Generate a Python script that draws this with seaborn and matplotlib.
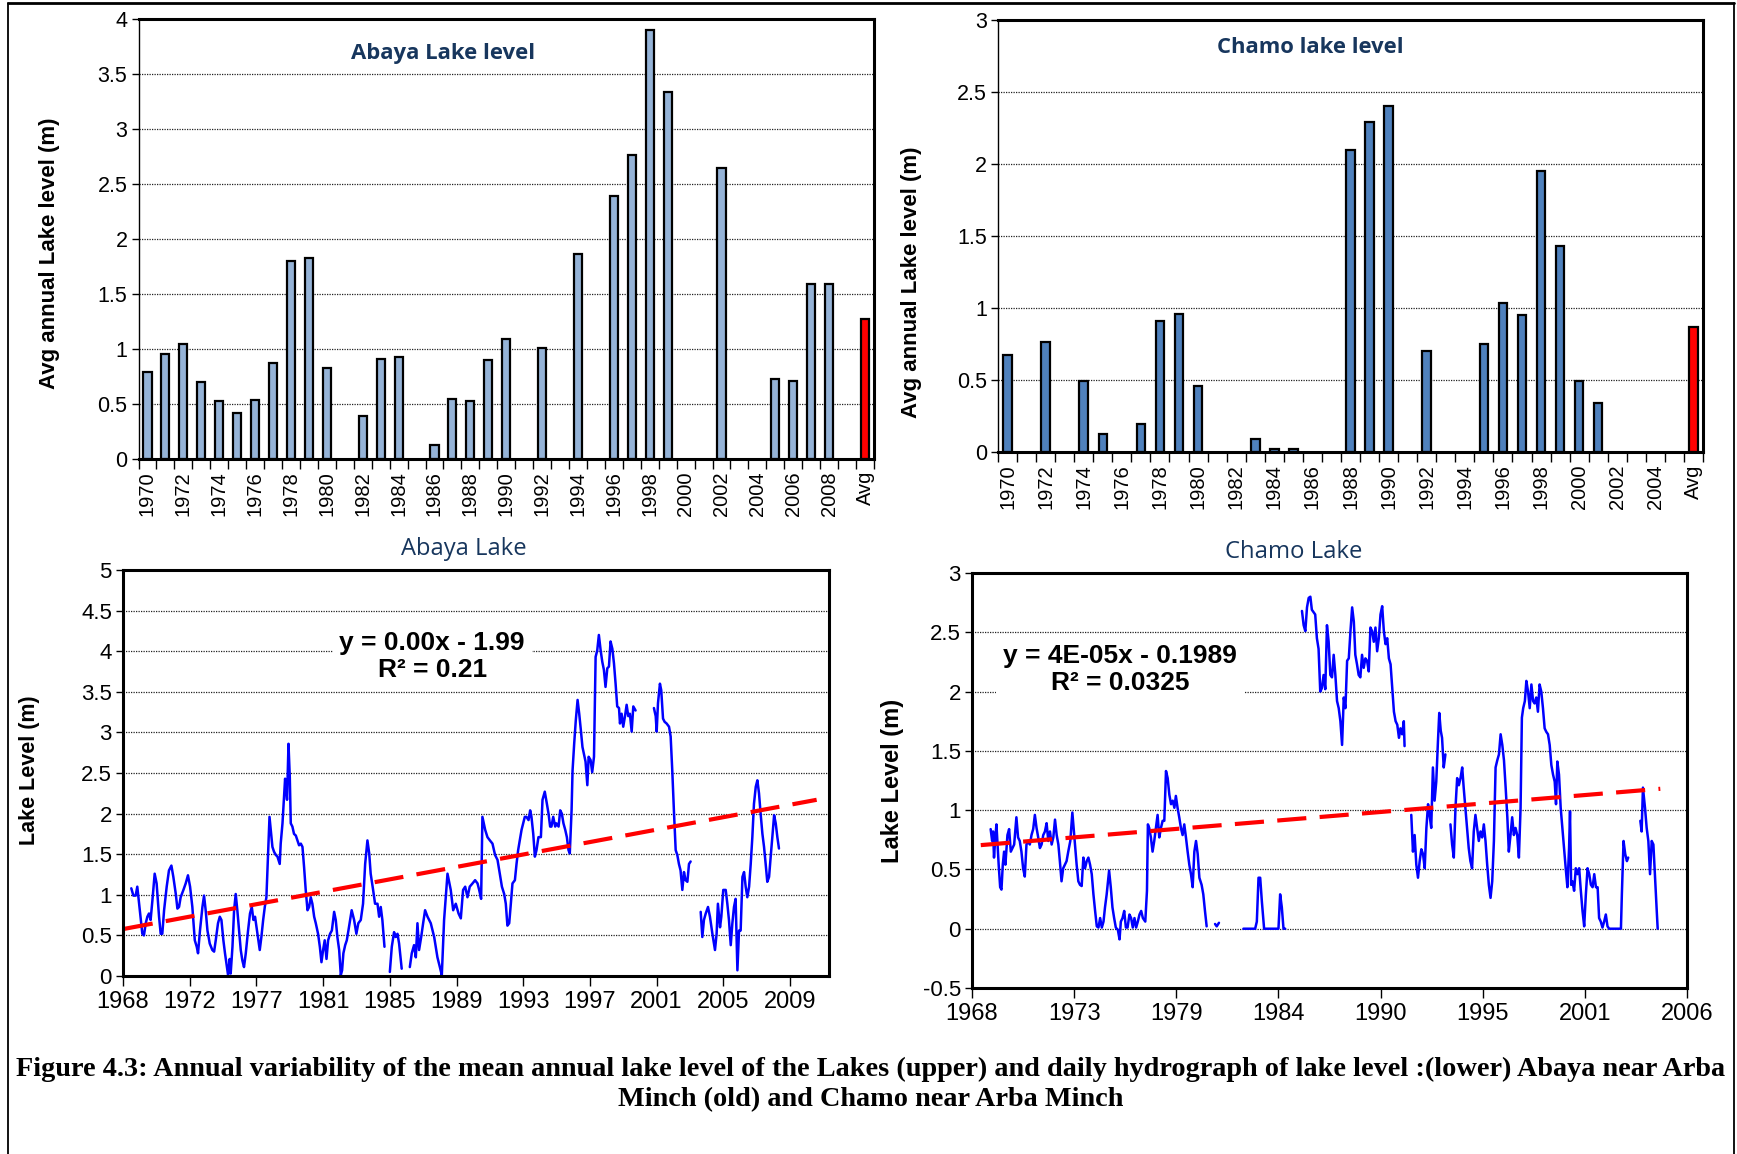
import numpy as np
import pandas as pd
import matplotlib
matplotlib.use("Agg")
import matplotlib.pyplot as plt
import seaborn as sns
from matplotlib import font_manager
from matplotlib.lines import Line2D
from matplotlib.ticker import MultipleLocator, FuncFormatter

# ---------------- DATA ----------------
abaya_cats = ['1970', '1971', '1972', '1973', '1974', '1975', '1976', '1977', '1978', '1979',
              '1980', '1981', '1982', '1983', '1984', '1985', '1986', '1987', '1988', '1989',
              '1990', '1991', '1992', '1993', '1994', '1995', '1996', '1997', '1998', '1999',
              '2000', '2001', '2002', '2003', '2004', '2005', '2006', '2007', '2008', '2009', 'Avg']
abaya_annual = [0.79, 0.95, 1.04, 0.70, 0.52, 0.415, 0.53, 0.87, 1.80, 1.82,
                0.82, None, 0.39, 0.91, 0.925, None, 0.12, 0.54, 0.52, 0.90,
                1.09, None, 1.01, None, 1.865, None, 2.39, 2.765, 3.90, 3.336,
                None, None, 2.64, None, None, 0.72, 0.71, 1.59, 1.585, None, 1.27]

chamo_cats = ['1970', '1971', '1972', '1973', '1974', '1975', '1976', '1977', '1978', '1979',
              '1980', '1981', '1982', '1983', '1984', '1985', '1986', '1987', '1988', '1989',
              '1990', '1991', '1992', '1993', '1994', '1995', '1996', '1997', '1998', '1999',
              '2000', '2001', '2002', '2003', '2004', '2005', 'Avg']
chamo_annual = [0.676, None, 0.763, None, 0.49, 0.125, None, 0.193, 0.911, 0.961,
                0.457, None, None, 0.087, 0.024, 0.024, None, None, 2.10, 2.29,
                2.40, None, 0.70, None, None, 0.753, 1.036, 0.954, 1.95, 1.43,
                0.49, 0.34, None, None, None, None, 0.87]

# daily hydrograph, Abaya (decimal year, level m), one list per continuous record
abaya_seg1 = [(1969.35, 1.08), (1969.48, 0.99), (1969.62, 0.99), (1969.72, 1.10), (1969.83, 0.89),
              (1969.93, 0.69), (1970.03, 0.52), (1970.13, 0.50), (1970.24, 0.65), (1970.34, 0.73),
              (1970.44, 0.77), (1970.54, 0.69), (1970.65, 0.93), (1970.79, 1.26), (1970.91, 1.14),
              (1971.06, 0.73), (1971.16, 0.52), (1971.26, 0.52), (1971.37, 0.81), (1971.53, 1.10),
              (1971.67, 1.30), (1971.82, 1.36), (1971.94, 1.22), (1972.09, 1.01), (1972.19, 0.83),
              (1972.29, 0.85), (1972.39, 0.97), (1972.56, 1.06), (1972.70, 1.14), (1972.84, 1.24),
              (1972.97, 1.10), (1973.11, 0.85), (1973.26, 0.44), (1973.38, 0.36), (1973.46, 0.28),
              (1973.58, 0.56), (1973.73, 0.85), (1973.83, 0.99), (1973.93, 0.81), (1974.04, 0.56),
              (1974.18, 0.40), (1974.34, 0.32), (1974.45, 0.30), (1974.55, 0.44), (1974.69, 0.65),
              (1974.80, 0.73), (1974.90, 0.69), (1975.02, 0.44), (1975.12, 0.28), (1975.21, 0.15),
              (1975.31, 0.01), (1975.41, 0.21), (1975.47, 0.03), (1975.58, 0.36), (1975.68, 0.81),
              (1975.78, 1.01), (1975.88, 0.81), (1975.99, 0.56), (1976.09, 0.32), (1976.19, 0.19),
              (1976.29, 0.11), (1976.40, 0.28), (1976.54, 0.56), (1976.66, 0.77), (1976.77, 0.85),
              (1976.87, 0.69), (1976.97, 0.73), (1977.12, 0.52), (1977.26, 0.32), (1977.36, 0.48),
              (1977.47, 0.69), (1977.57, 0.85), (1977.67, 0.97), (1977.77, 1.51), (1977.86, 1.96),
              (1977.94, 1.79), (1978.04, 1.59), (1978.14, 1.53), (1978.25, 1.49), (1978.35, 1.47),
              (1978.49, 1.38), (1978.55, 1.63), (1978.66, 1.88), (1978.76, 2.21), (1978.82, 2.43),
              (1978.88, 2.33), (1978.94, 2.17), (1979.03, 2.86), (1979.11, 2.45), (1979.17, 1.88),
              (1979.27, 1.84), (1979.37, 1.75), (1979.48, 1.73), (1979.58, 1.67), (1979.68, 1.61),
              (1979.79, 1.63), (1979.89, 1.59), (1979.99, 1.34), (1980.09, 1.06), (1980.20, 0.81),
              (1980.30, 0.85), (1980.40, 0.97), (1980.50, 0.89), (1980.61, 0.73), (1980.71, 0.65),
              (1980.85, 0.52), (1980.96, 0.36), (1981.06, 0.17), (1981.16, 0.32), (1981.26, 0.44),
              (1981.37, 0.21), (1981.47, 0.44), (1981.59, 0.52), (1981.70, 0.56), (1981.84, 0.79),
              (1981.94, 0.69), (1982.04, 0.48), (1982.15, 0.32), (1982.25, 0.01), (1982.33, 0.07),
              (1982.41, 0.28), (1982.52, 0.38), (1982.62, 0.44), (1982.72, 0.56), (1982.92, 0.81),
              (1983.07, 0.69), (1983.21, 0.52), (1983.33, 0.65), (1983.48, 0.69), (1983.62, 0.89),
              (1983.75, 1.38), (1983.89, 1.67), (1984.00, 1.51), (1984.09, 1.26), (1984.24, 1.06),
              (1984.36, 0.89), (1984.51, 0.89), (1984.61, 0.73), (1984.71, 0.85), (1984.81, 0.69),
              (1984.94, 0.36)]
abaya_seg2 = [(1985.27, 0.05), (1985.39, 0.36), (1985.53, 0.54), (1985.63, 0.48), (1985.74, 0.52),
              (1985.84, 0.40), (1986.00, 0.09)]
abaya_seg3 = [(1986.50, 0.11), (1986.62, 0.28), (1986.76, 0.38), (1986.87, 0.23), (1986.97, 0.65),
              (1987.07, 0.32), (1987.20, 0.48), (1987.32, 0.65), (1987.44, 0.81), (1987.59, 0.73),
              (1987.79, 0.65), (1988.00, 0.48), (1988.20, 0.23), (1988.35, 0.11), (1988.47, 0.01),
              (1988.61, 0.69), (1988.82, 1.26), (1989.02, 1.06), (1989.17, 0.81), (1989.33, 0.89),
              (1989.50, 0.77), (1989.64, 0.71), (1989.78, 1.06), (1989.91, 1.10), (1990.05, 0.97),
              (1990.19, 1.10), (1990.36, 1.14), (1990.52, 1.18), (1990.67, 1.14), (1990.77, 1.06),
              (1990.89, 0.95), (1990.97, 1.96), (1991.14, 1.80), (1991.28, 1.71), (1991.43, 1.67),
              (1991.59, 1.63), (1991.75, 1.49), (1991.90, 1.43), (1992.04, 1.26), (1992.17, 1.10),
              (1992.31, 1.01), (1992.41, 0.89), (1992.51, 0.62), (1992.62, 0.65), (1992.72, 0.89),
              (1992.82, 1.14), (1992.97, 1.18), (1993.07, 1.38), (1993.17, 1.55), (1993.27, 1.67),
              (1993.38, 1.80), (1993.48, 1.88), (1993.58, 1.96), (1993.68, 1.96), (1993.81, 1.92),
              (1993.91, 2.04), (1993.99, 1.96), (1994.10, 1.75), (1994.20, 1.47), (1994.30, 1.55),
              (1994.42, 1.71), (1994.57, 1.71), (1994.67, 2.17), (1994.81, 2.27), (1994.94, 2.12),
              (1995.04, 2.00), (1995.14, 1.84), (1995.22, 1.84), (1995.33, 1.96), (1995.45, 1.84),
              (1995.53, 1.88), (1995.66, 1.84), (1995.76, 2.04), (1995.86, 2.00), (1995.96, 1.88),
              (1996.07, 1.80), (1996.17, 1.71), (1996.27, 1.55), (1996.35, 1.51), (1996.46, 2.04),
              (1996.52, 2.53), (1996.62, 2.86), (1996.72, 3.15), (1996.83, 3.40), (1996.93, 3.23),
              (1997.03, 3.03), (1997.13, 2.82), (1997.32, 2.64), (1997.43, 2.35), (1997.51, 2.70),
              (1997.63, 2.66), (1997.73, 2.51), (1997.84, 2.70), (1997.94, 3.93), (1998.04, 4.01),
              (1998.14, 4.20), (1998.25, 4.01), (1998.35, 3.87), (1998.45, 3.77), (1998.55, 3.56),
              (1998.66, 3.79), (1998.76, 3.81), (1998.86, 4.12), (1998.97, 4.03), (1999.07, 3.85),
              (1999.17, 3.60), (1999.27, 3.32), (1999.38, 3.30), (1999.44, 3.11), (1999.54, 3.23),
              (1999.64, 3.07), (1999.75, 3.20), (1999.85, 3.34), (1999.95, 3.20), (2000.05, 3.23),
              (2000.16, 3.01), (2000.26, 3.32), (2000.40, 3.27)]
abaya_seg4 = [(2001.53, 3.30), (2001.64, 3.20), (2001.70, 3.01), (2001.78, 3.36), (2001.90, 3.60),
              (2001.98, 3.52), (2002.09, 3.17), (2002.19, 3.13), (2002.31, 3.11), (2002.46, 3.07),
              (2002.56, 2.95), (2002.66, 2.53), (2002.76, 2.04), (2002.87, 1.55), (2002.97, 1.49),
              (2003.07, 1.38), (2003.17, 1.30), (2003.28, 1.06), (2003.38, 1.28), (2003.48, 1.18),
              (2003.59, 1.16), (2003.69, 1.38), (2003.79, 1.41)]
abaya_seg5 = [(2004.41, 0.79), (2004.51, 0.48), (2004.61, 0.69), (2004.72, 0.77), (2004.86, 0.85),
              (2004.98, 0.73), (2005.13, 0.52), (2005.29, 0.32), (2005.39, 0.52), (2005.47, 0.89),
              (2005.60, 0.60), (2005.68, 0.73), (2005.80, 1.06), (2005.95, 1.06), (2006.05, 0.89),
              (2006.15, 0.69), (2006.26, 0.38), (2006.36, 0.65), (2006.46, 0.85), (2006.56, 0.95),
              (2006.67, 0.07), (2006.77, 0.56), (2006.87, 0.56), (2006.98, 1.22), (2007.08, 1.28),
              (2007.18, 1.10), (2007.28, 0.97), (2007.39, 1.10), (2007.49, 1.38), (2007.59, 1.71),
              (2007.69, 2.12), (2007.80, 2.33), (2007.90, 2.41), (2008.00, 2.25), (2008.10, 2.00),
              (2008.21, 1.75), (2008.31, 1.59), (2008.41, 1.38), (2008.51, 1.16), (2008.62, 1.22),
              (2008.72, 1.47), (2008.82, 1.71), (2008.93, 1.98), (2009.03, 1.88), (2009.13, 1.71),
              (2009.23, 1.57)]

# daily hydrograph, Chamo
chamo_seg1 = [(1969.44, 0.84), (1969.52, 0.74), (1969.57, 0.82), (1969.62, 0.60), (1969.69, 0.77),
              (1969.75, 0.88), (1969.80, 0.74), (1969.87, 0.54), (1969.95, 0.35), (1970.02, 0.33),
              (1970.09, 0.54), (1970.16, 0.65), (1970.23, 0.54), (1970.34, 0.79), (1970.43, 0.84),
              (1970.52, 0.65), (1970.61, 0.68), (1970.70, 0.71), (1970.82, 0.94), (1970.91, 0.77),
              (1971.00, 0.74), (1971.09, 0.65), (1971.18, 0.51), (1971.27, 0.44), (1971.36, 0.71),
              (1971.45, 0.74), (1971.54, 0.71), (1971.63, 0.79), (1971.72, 0.84), (1971.81, 0.96),
              (1971.90, 0.85), (1971.99, 0.77), (1972.08, 0.68), (1972.17, 0.71), (1972.26, 0.79),
              (1972.35, 0.82), (1972.44, 0.89), (1972.53, 0.74), (1972.62, 0.82), (1972.71, 0.71),
              (1972.80, 0.77), (1972.89, 0.92), (1972.98, 0.79), (1973.07, 0.71), (1973.15, 0.57),
              (1973.24, 0.40), (1973.33, 0.51), (1973.42, 0.54), (1973.51, 0.57), (1973.60, 0.65),
              (1973.71, 0.74), (1973.82, 0.98), (1973.93, 0.77), (1974.05, 0.54), (1974.14, 0.40),
              (1974.23, 0.37), (1974.32, 0.36), (1974.41, 0.60), (1974.50, 0.51), (1974.59, 0.57),
              (1974.68, 0.60), (1974.77, 0.54), (1974.86, 0.46), (1974.95, 0.29), (1975.04, 0.15),
              (1975.13, 0.02), (1975.22, 0.01), (1975.31, 0.09), (1975.40, 0.01), (1975.49, 0.06),
              (1975.57, 0.18), (1975.66, 0.29), (1975.79, 0.49), (1975.88, 0.35), (1975.97, 0.18),
              (1976.06, 0.09), (1976.15, 0.01), (1976.26, -0.01), (1976.35, -0.09), (1976.42, 0.06),
              (1976.51, 0.09), (1976.60, 0.15), (1976.69, 0.01), (1976.78, 0.01), (1976.88, 0.12),
              (1976.97, 0.09), (1977.06, 0.01), (1977.15, 0.09), (1977.24, 0.01), (1977.33, 0.06),
              (1977.42, 0.12), (1977.51, 0.15), (1977.60, 0.09), (1977.73, 0.06), (1977.82, 0.32),
              (1977.87, 0.88), (1977.94, 0.85), (1978.03, 0.77), (1978.12, 0.65), (1978.21, 0.74),
              (1978.30, 0.85), (1978.39, 0.96), (1978.48, 0.77), (1978.57, 0.85), (1978.66, 0.91),
              (1978.75, 0.91), (1978.84, 1.33), (1978.93, 1.27), (1979.02, 1.13), (1979.11, 1.05),
              (1979.20, 1.08), (1979.29, 1.02), (1979.37, 1.12), (1979.46, 1.02), (1979.55, 0.94),
              (1979.64, 0.85), (1979.73, 0.79), (1979.82, 0.88), (1979.91, 0.77), (1980.00, 0.65),
              (1980.09, 0.54), (1980.18, 0.46), (1980.27, 0.35), (1980.36, 0.65), (1980.45, 0.74),
              (1980.54, 0.63), (1980.63, 0.43), (1980.75, 0.37), (1980.84, 0.29), (1980.93, 0.15),
              (1981.02, 0.02)]
chamo_seg2 = [(1981.47, 0.04), (1981.56, 0.02), (1981.68, 0.05)]
chamo_seg3 = [(1982.99, 0.0), (1983.62, 0.0), (1983.71, 0.06), (1983.80, 0.43), (1983.89, 0.43),
              (1983.98, 0.23), (1984.10, 0.0), (1984.87, 0.0), (1984.96, 0.29), (1985.05, 0.18),
              (1985.14, 0.0), (1985.23, 0.0)]
chamo_seg4 = [(1986.13, 2.68), (1986.22, 2.56), (1986.31, 2.51), (1986.40, 2.71), (1986.49, 2.79),
              (1986.58, 2.80), (1986.66, 2.69), (1986.75, 2.67), (1986.84, 2.65), (1986.93, 2.45),
              (1987.02, 2.36), (1987.11, 2.00), (1987.20, 2.03), (1987.29, 2.14), (1987.38, 2.02),
              (1987.47, 2.56), (1987.56, 2.42), (1987.65, 2.14), (1987.74, 2.12), (1987.83, 2.31),
              (1987.92, 2.14), (1988.01, 1.92), (1988.10, 1.86), (1988.19, 1.75), (1988.28, 1.55),
              (1988.37, 1.95), (1988.46, 1.86), (1988.55, 2.26), (1988.64, 2.28), (1988.73, 2.51),
              (1988.82, 2.71), (1988.91, 2.59), (1988.99, 2.31), (1989.08, 2.23), (1989.17, 2.14),
              (1989.26, 2.12), (1989.35, 2.31), (1989.44, 2.20), (1989.53, 2.28), (1989.62, 2.26),
              (1989.71, 2.17), (1989.80, 2.54), (1989.89, 2.51), (1989.98, 2.42), (1990.07, 2.54),
              (1990.16, 2.34), (1990.25, 2.45), (1990.34, 2.65), (1990.43, 2.72), (1990.52, 2.51),
              (1990.61, 2.40), (1990.70, 2.45), (1990.79, 2.28), (1990.88, 2.23), (1990.97, 2.03),
              (1991.06, 1.83), (1991.15, 1.75), (1991.24, 1.72), (1991.33, 1.61), (1991.41, 1.69),
              (1991.50, 1.64), (1991.59, 1.75), (1991.63, 1.54)]
chamo_seg5 = [(1991.99, 0.96), (1992.08, 0.65), (1992.17, 0.79), (1992.26, 0.54), (1992.35, 0.43),
              (1992.44, 0.57), (1992.53, 0.67), (1992.62, 0.63), (1992.71, 0.51), (1992.80, 0.85),
              (1992.89, 1.05), (1992.97, 0.96), (1993.06, 0.85), (1993.15, 1.36), (1993.24, 1.08),
              (1993.33, 1.24), (1993.42, 1.58), (1993.49, 1.82), (1993.57, 1.67), (1993.64, 1.61),
              (1993.73, 1.36), (1993.82, 1.47)]
chamo_seg6 = [(1994.09, 0.88), (1994.18, 0.71), (1994.27, 0.60), (1994.36, 1.02), (1994.45, 1.27),
              (1994.54, 1.21), (1994.63, 1.27), (1994.72, 1.36), (1994.80, 1.19), (1994.89, 1.02),
              (1994.98, 0.85), (1995.07, 0.68), (1995.16, 0.57), (1995.25, 0.51), (1995.34, 0.82),
              (1995.43, 0.96), (1995.52, 0.85), (1995.61, 0.74), (1995.70, 0.82), (1995.79, 0.77),
              (1995.88, 0.88), (1995.97, 0.74), (1996.06, 0.54), (1996.15, 0.37), (1996.24, 0.26),
              (1996.33, 0.40), (1996.42, 0.74), (1996.51, 1.36), (1996.60, 1.42), (1996.69, 1.47),
              (1996.78, 1.64), (1996.87, 1.55), (1996.96, 1.42), (1997.05, 1.19), (1997.14, 0.94),
              (1997.22, 0.65), (1997.31, 0.79), (1997.40, 0.94), (1997.49, 0.79), (1997.58, 0.85),
              (1997.67, 0.79), (1997.76, 0.60), (1997.85, 1.02), (1997.92, 1.78), (1997.99, 1.86),
              (1998.08, 1.92), (1998.16, 2.09), (1998.25, 2.00), (1998.34, 1.86), (1998.43, 2.06),
              (1998.52, 1.92), (1998.60, 1.90), (1998.69, 1.95), (1998.78, 1.83), (1998.87, 2.06),
              (1998.96, 2.00), (1999.05, 1.86), (1999.14, 1.69), (1999.23, 1.66), (1999.32, 1.64),
              (1999.41, 1.55), (1999.50, 1.38), (1999.59, 1.30), (1999.68, 1.24), (1999.75, 1.05),
              (1999.82, 1.41), (1999.91, 1.30), (2000.00, 1.02), (2000.09, 0.85), (2000.18, 0.68),
              (2000.27, 0.51), (2000.36, 0.35), (2000.45, 0.68), (2000.50, 0.99), (2000.56, 0.37),
              (2000.63, 0.40), (2000.72, 0.32), (2000.81, 0.51), (2000.90, 0.46), (2000.99, 0.51),
              (2001.08, 0.32), (2001.17, 0.15), (2001.26, 0.02), (2001.35, 0.29), (2001.44, 0.51),
              (2001.53, 0.46), (2001.62, 0.37), (2001.71, 0.35), (2001.80, 0.46), (2001.89, 0.35),
              (2001.98, 0.35), (2002.06, 0.09), (2002.15, 0.06), (2002.24, 0.01), (2002.33, 0.06),
              (2002.42, 0.12), (2002.51, 0.02), (2002.60, 0.0), (2003.23, 0.0), (2003.28, 0.29),
              (2003.37, 0.74), (2003.46, 0.63), (2003.55, 0.57), (2003.62, 0.60)]
chamo_seg7 = [(2004.27, 0.91), (2004.34, 0.82), (2004.41, 1.19), (2004.52, 1.02), (2004.61, 0.85),
              (2004.70, 0.74), (2004.79, 0.46), (2004.88, 0.74), (2004.97, 0.71), (2005.06, 0.43),
              (2005.15, 0.15), (2005.20, 0.0)]

# linear trend lines (end points)
abaya_trend_year = [1968.90, 2011.55]
abaya_trend_level = [0.58, 2.17]
chamo_trend_year = [1968.91, 2005.34]
chamo_trend_level = [0.705, 1.18]

abaya_xtick_labels = ['1968', '1972', '1977', '1981', '1985', '1989', '1993', '1997', '2001', '2005', '2009']
chamo_xtick_labels = ['1968', '1973', '1979', '1984', '1990', '1995', '2001', '2006']

abaya_eq = "y = 0.00x - 1.99\nR² = 0.21"
chamo_eq = "y = 4E-05x - 0.1989\nR² = 0.0325"
caption1 = ("Figure 4.3: Annual variability of the mean annual lake level of the Lakes (upper) and daily "
            "hydrograph of lake level :(lower) Abaya near Arba")
caption2 = "Minch (old) and Chamo near Arba Minch"

# ---------------- STYLE ----------------
sns.set_theme(style="white", rc={
    "text.color": "black", "axes.labelcolor": "black", "xtick.color": "black",
    "ytick.color": "black", "axes.edgecolor": "black"})
plt.rcParams['font.family'] = ['Liberation Sans', 'DejaVu Sans']
available = {f.name for f in font_manager.fontManager.ttflist}
narrow = 'Liberation Sans Narrow' if 'Liberation Sans Narrow' in available else 'Open Sans'
serif = 'Liberation Serif' if 'Liberation Serif' in available else 'DejaVu Serif'

NAVY = '#17365D'
ABAYA_BAR = '#95B3D7'
CHAMO_BAR = '#4F81BD'
RED = '#FF0000'
LINE = '#0000FF'

W, H = 1737, 1154
fig = plt.figure(figsize=(W / 100, H / 100), dpi=100)
renderer = fig.canvas.get_renderer()


def fit(t, width_px):
    w = t.get_window_extent(renderer).width
    t.set_fontsize(t.get_fontsize() * width_px / w)


def rect(l, t, r, b):
    return [l / W, 1 - b / H, (r - l) / W, (b - t) / H]


ax1 = fig.add_axes(rect(138.5, 18.8, 874, 458.6))
ax2 = fig.add_axes(rect(998, 20, 1703, 452))
ax3 = fig.add_axes(rect(123, 570, 829, 976))
ax4 = fig.add_axes(rect(972, 573, 1687, 988))

fmt = FuncFormatter(lambda v, _: f"{v:g}")


def bar_panel(ax, cats, vals, color, ymax, title, tpos):
    df = pd.DataFrame({'cat': cats, 'val': [np.nan if v is None else v for v in vals]}).dropna()
    pal = {c: (RED if c == 'Avg' else color) for c in cats}
    sns.barplot(data=df, x='cat', y='val', hue='cat', order=cats, hue_order=cats, palette=pal,
                width=0.45, edgecolor='black', linewidth=1.6, legend=False, ax=ax,
                saturation=1, errorbar=None)
    n = len(cats)
    ax.set_xlim(-0.5, n - 0.5)
    ax.set_ylim(0, ymax)
    ax.set_xlabel('')
    ax.set_ylabel('')
    ax.set_xticks(range(0, n, 2))
    ax.set_xticklabels(cats[::2], rotation=90, fontsize=14.5)
    ax.set_xticks(np.arange(-0.5, n, 1), minor=True)
    ax.tick_params(axis='x', which='major', length=0, pad=9, bottom=True)
    ax.tick_params(axis='x', which='minor', length=7, width=1.0, direction='out', bottom=True)
    ax.yaxis.set_major_locator(MultipleLocator(0.5))
    ax.yaxis.set_major_formatter(fmt)
    ax.tick_params(axis='y', length=5, width=1.0, direction='out', left=True, labelsize=15.5, pad=3)
    ax.grid(False)
    ax.yaxis.grid(True, linestyle=(0, (1, 1)), color='#222222', linewidth=0.9)
    ax.set_axisbelow(True)
    for s in ['top', 'right', 'bottom']:
        ax.spines[s].set_linewidth(2.2)
    ax.spines['left'].set_linewidth(1.0)
    t = ax.text(tpos[0], tpos[1], title, transform=ax.transAxes, ha='center', va='center',
                color=NAVY, fontweight='bold', family=[narrow, 'DejaVu Sans'], fontsize=17)
    return t


t1 = bar_panel(ax1, abaya_cats, abaya_annual, ABAYA_BAR, 4, "Abaya Lake level", (0.414, 0.922))
t2 = bar_panel(ax2, chamo_cats, chamo_annual, CHAMO_BAR, 3, "Chamo lake level", (0.443, 0.936))
fit(t1, 184)
fit(t2, 186)


def seg_frame(segs):
    rows = []
    for i, s in enumerate(segs):
        for yr, lv in s:
            rows.append((yr, lv, i))
    return pd.DataFrame(rows, columns=['year', 'level', 'seg'])


def line_panel(ax, segs, tr_x, tr_y, x0, step, labels, ylim, eq, eqpos, title, tpos):
    df = seg_frame(segs)
    sns.lineplot(data=df, x='year', y='level', units='seg', estimator=None, color=LINE,
                 linewidth=1.8, ax=ax)
    sns.lineplot(x=tr_x, y=tr_y, color=RED, linewidth=3.0, linestyle=(0, (7, 3.2)), ax=ax)
    ax.set_xlabel('')
    ax.set_ylabel('')
    ticks = [x0 + k * step for k in range(len(labels))]
    ax.set_xticks(ticks)
    ax.set_xticklabels(labels, fontsize=17)
    ax.tick_params(axis='x', length=7, width=1.0, direction='out', bottom=True, pad=4)
    ax.set_ylim(*ylim)
    ax.yaxis.set_major_locator(MultipleLocator(0.5))
    ax.yaxis.set_major_formatter(fmt)
    ax.tick_params(axis='y', length=5, width=1.0, direction='out', left=True, labelsize=16, pad=3)
    ax.grid(False)
    ax.yaxis.grid(True, linestyle=(0, (1, 1)), color='#222222', linewidth=0.9)
    ax.set_axisbelow(True)
    for s in ax.spines.values():
        s.set_linewidth(2.2)
    ax.text(eqpos[0], eqpos[1], eq, transform=ax.transAxes, ha='center', va='center',
            multialignment='center', fontsize=19, fontweight='bold', linespacing=1.15,
            bbox=dict(facecolor='white', edgecolor='none', pad=5), zorder=5)
    t = ax.text(tpos[0], tpos[1], title, transform=ax.transAxes, ha='center', va='center',
                color=NAVY, family=[narrow, 'DejaVu Sans'], fontsize=17)
    return t


t3 = line_panel(ax3, [abaya_seg1, abaya_seg2, abaya_seg3, abaya_seg4, abaya_seg5],
                abaya_trend_year, abaya_trend_level, 1968.84, 4.107, abaya_xtick_labels, (0, 5),
                abaya_eq, (0.438, 0.786), "Abaya Lake", (0.483, 1.052))
ax3.set_xlim(1968.84, 2012.31)
t4 = line_panel(ax4, [chamo_seg1, chamo_seg2, chamo_seg3, chamo_seg4, chamo_seg5, chamo_seg6, chamo_seg7],
                chamo_trend_year, chamo_trend_level, 1968.44, 5.476, chamo_xtick_labels, (-0.5, 3),
                chamo_eq, (0.207, 0.767), "Chamo Lake", (0.450, 1.051))
ax4.set_xlim(1968.44, 1968.44 + 7 * 5.476)
fit(t3, 126)
fit(t4, 137)

# y-axis titles
fig.text(50 / W, 1 - 253 / H, "Avg annual Lake level (m)", rotation=90, ha='center', va='center',
         fontsize=16, fontweight='bold')
fig.text(911 / W, 1 - 282 / H, "Avg annual Lake level (m)", rotation=90, ha='center', va='center',
         fontsize=16, fontweight='bold')
fig.text(30 / W, 1 - 770 / H, "Lake Level (m)", rotation=90, ha='center', va='center',
         fontsize=15.5, fontweight='bold')
fig.text(893 / W, 1 - 781 / H, "Lake Level (m)", rotation=90, ha='center', va='center',
         fontsize=17, fontweight='bold')

# caption
c1 = fig.text(871 / W, 1 - 1069 / H, caption1, ha='center', va='center', family=serif,
              fontweight='bold', fontsize=17)
c2 = fig.text(871 / W, 1 - 1100 / H, caption2, ha='center', va='center', family=serif,
              fontweight='bold', fontsize=17)
fit(c1, 1708)
c2.set_fontsize(c1.get_fontsize())

# page frame
fig.add_artist(Line2D([8 / W, 8 / W], [0, 1 - 3 / H], color='black', linewidth=1.3))
fig.add_artist(Line2D([8 / W, 1734 / W], [1 - 3 / H, 1 - 3 / H], color='black', linewidth=2.0))
fig.add_artist(Line2D([1734 / W, 1734 / W], [0, 1 - 3 / H], color='black', linewidth=1.3))

fig.savefig('out.png', dpi=100)
